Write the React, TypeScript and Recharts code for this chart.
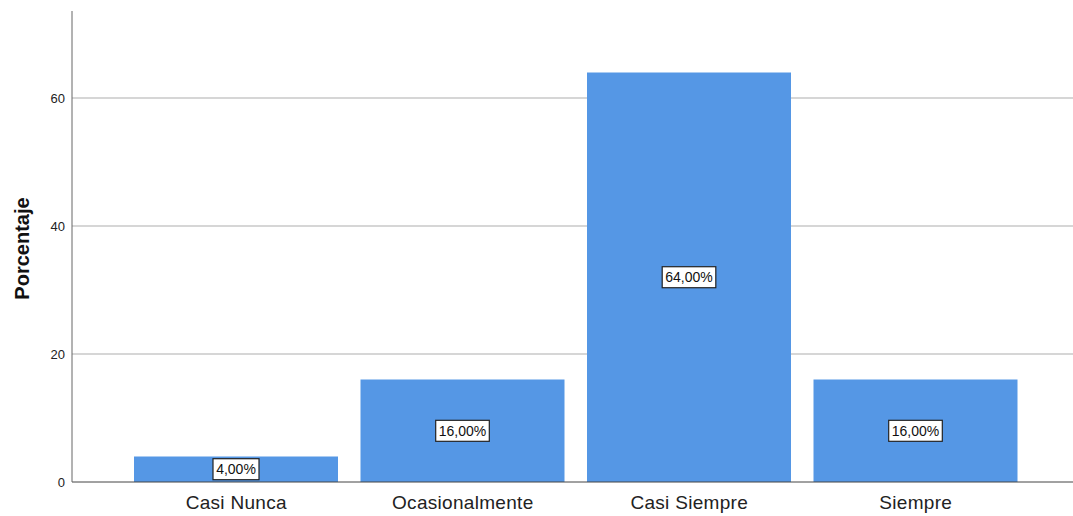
import { BarChart, Bar, XAxis, YAxis, CartesianGrid, LabelList, Label } from "recharts";

/* ── Data ── */

const categories = ["Casi Nunca", "Ocasionalmente", "Casi Siempre", "Siempre"];
const porcentaje = [4, 16, 64, 16];
const yTicks = [0, 20, 40, 60];
const gridValues = [20, 40, 60];

const data = categories.map((name, i) => ({ name, value: porcentaje[i] }));

const FONT = "'Liberation Sans', Arial, sans-serif";
const BAR_COLOR = "#5597E5";

/* ── Boxed value label ── */

function BoxLabel(props: any) {
  const { x, y, width, height, value } = props;
  const text = `${Number(value).toFixed(2).replace(".", ",")}%`;
  const w = text.length * 7.6 + 8;
  const h = 21;
  const cx = x + width / 2;
  const cy = y + height / 2;
  return (
    <g>
      <rect x={cx - w / 2} y={cy - h / 2} width={w} height={h} fill="#fff" stroke="#222" strokeWidth={1.2} />
      <text x={cx} y={cy} textAnchor="middle" dominantBaseline="central" fontSize={14} fontFamily={FONT} fill="#111">
        {text}
      </text>
    </g>
  );
}

export default function App() {
  return (
    <div style={{ position: "absolute", left: 0, top: 0, width: 1073, height: 516, background: "#fff" }}>
      <BarChart width={1073} height={516} data={data} margin={{ top: 11, right: 0, left: 0, bottom: 0 }}>
        <CartesianGrid vertical={false} horizontalValues={gridValues} stroke="#c8c8c8" strokeWidth={1.5} />
        <XAxis
          dataKey="name"
          height={34}
          padding={{ left: 51, right: 44 }}
          tickLine={false}
          tickSize={0}
          tickMargin={14}
          axisLine={{ stroke: "#444" }}
          tick={{ fontSize: 19, fill: "#222", fontFamily: FONT, letterSpacing: 0.3 }}
        />
        <YAxis
          width={72}
          domain={[0, 73.6]}
          ticks={yTicks}
          tickLine={false}
          tickSize={0}
          tickMargin={7}
          axisLine={{ stroke: "#666" }}
          tick={{ fontSize: 13, fill: "#222", fontFamily: FONT }}
        >
          <Label
            content={({ viewBox }: any) => (
              <text
                x={22}
                y={viewBox.y + viewBox.height / 2 + 2}
                transform={`rotate(-90, 22, ${viewBox.y + viewBox.height / 2 + 2})`}
                textAnchor="middle"
                dominantBaseline="central"
                fontSize={20}
                fontWeight="bold"
                fontFamily={FONT}
                fill="#111"
              >
                Porcentaje
              </text>
            )}
          />
        </YAxis>
        <Bar dataKey="value" fill={BAR_COLOR} barSize={204} isAnimationActive={false}>
          <LabelList dataKey="value" content={BoxLabel} />
        </Bar>
      </BarChart>
    </div>
  );
}
